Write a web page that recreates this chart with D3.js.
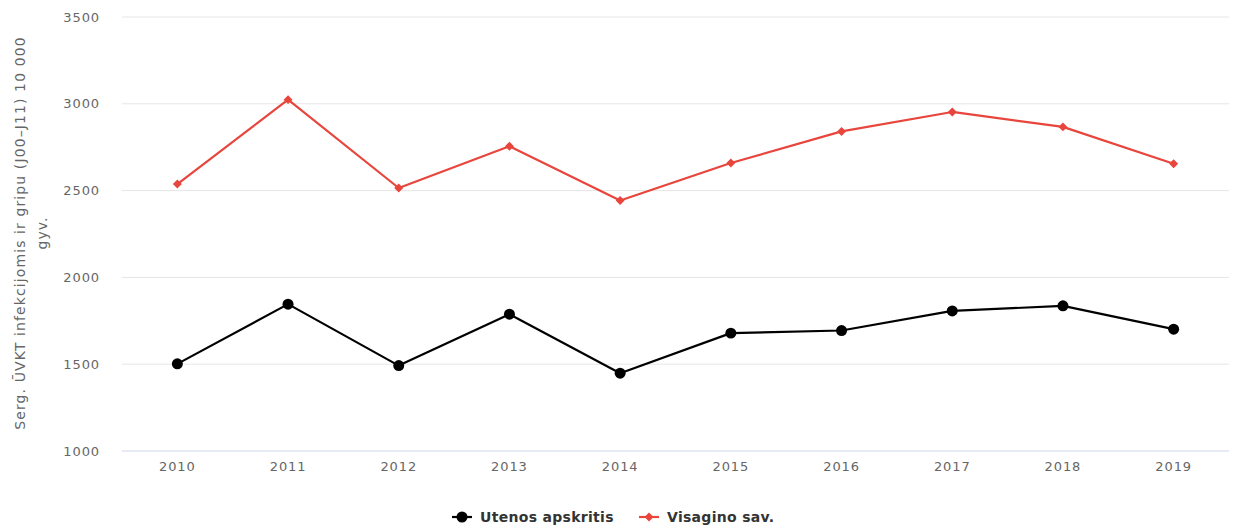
<!DOCTYPE html>
<html>
<head>
<meta charset="utf-8">
<script src="https://cdn.jsdelivr.net/npm/d3@7"></script>
<style>
  html, body { margin: 0; padding: 0; background: #fff; }
  svg { display: block; font-family: "DejaVu Sans", sans-serif; }
</style>
</head>
<body>
<svg id="chart" width="1234" height="526"></svg>
<script>
// Respiratory infection & flu incidence per 10 000 inhabitants
const years = ["2010", "2011", "2012", "2013", "2014", "2015", "2016", "2017", "2018", "2019"];
const utenosValues = [1502, 1846, 1492, 1788, 1448, 1679, 1694, 1807, 1836, 1702];
const visaginoValues = [2538, 3024, 2515, 2755, 2443, 2659, 2841, 2953, 2867, 2655];
const yTicks = [1000, 1500, 2000, 2500, 3000, 3500];
const seriesNames = ["Utenos apskritis", "Visagino sav."];
const axisTitleLines = ["Serg. ŪVKT infekcijomis ir gripu (J00–J11) 10 000", "gyv."];

const svg = d3.select("#chart");
const plotLeft = 122, plotRight = 1229, plotTop = 17, plotBottom = 451;

const x = d3.scaleBand().domain(years).range([plotLeft, plotRight]);
const y = d3.scaleLinear().domain([1000, 3500]).range([plotBottom, plotTop]);

// grid lines
svg.append("g")
  .selectAll("line")
  .data(yTicks.filter(t => t !== 1000))
  .join("line")
  .attr("x1", plotLeft).attr("x2", plotRight)
  .attr("y1", d => y(d)).attr("y2", d => y(d))
  .attr("stroke", "#e6e6e6").attr("stroke-width", 1);

// x axis baseline
svg.append("line")
  .attr("x1", plotLeft).attr("x2", plotRight)
  .attr("y1", y(1000)).attr("y2", y(1000))
  .attr("stroke", "#ccd6eb").attr("stroke-width", 1);

// y tick labels
const yAxis = d3.axisLeft(y).tickValues(yTicks).tickSize(0).tickPadding(0).tickFormat(d3.format("d"));
const gy = svg.append("g").attr("transform", "translate(100,0)").call(yAxis);
gy.select(".domain").remove();
gy.selectAll("text")
  .attr("fill", "#666").attr("font-size", "13px").attr("letter-spacing", "0.9px")
  .attr("font-family", "DejaVu Sans, sans-serif");

// x tick labels
const xAxis = d3.axisBottom(x).tickSize(0).tickPadding(0);
const gx = svg.append("g").attr("transform", "translate(0,462)").call(xAxis);
gx.select(".domain").remove();
gx.selectAll("text")
  .attr("fill", "#666").attr("font-size", "13px").attr("letter-spacing", "0.9px")
  .attr("font-family", "DejaVu Sans, sans-serif");

// y axis title (two lines, rotated)
const title = svg.append("text")
  .attr("transform", "translate(25,233) rotate(-90)")
  .attr("text-anchor", "middle")
  .attr("fill", "#666").attr("font-size", "14px").attr("letter-spacing", "1.1px");
title.selectAll("tspan")
  .data(axisTitleLines)
  .join("tspan")
  .attr("x", 0)
  .attr("dy", (d, i) => i === 0 ? 0 : 22)
  .text(d => d);

const cx = d => x(d) + x.bandwidth() / 2;
const line = d3.line().x(d => cx(d.year)).y(d => y(d.value));

const series = [
  { name: seriesNames[0], color: "#000000", values: utenosValues, symbol: d3.symbolCircle, size: 95, rot: 0 },
  { name: seriesNames[1], color: "#e8453c", values: visaginoValues, symbol: d3.symbolSquare, size: 40, rot: 45 }
];

series.forEach(s => {
  const pts = years.map((yr, i) => ({ year: yr, value: s.values[i] }));
  svg.append("path")
    .datum(pts)
    .attr("d", line)
    .attr("fill", "none")
    .attr("stroke", s.color)
    .attr("stroke-width", 2.2)
    .attr("stroke-linejoin", "round");
  svg.append("g")
    .selectAll("path")
    .data(pts)
    .join("path")
    .attr("transform", d => `translate(${cx(d.year)},${y(d.value)}) rotate(${s.rot})`)
    .attr("d", d3.symbol().type(s.symbol).size(s.size))
    .attr("fill", s.color);
});

// legend
const legendItems = [
  { s: series[0], x0: 452, tx: 480 },
  { s: series[1], x0: 639, tx: 667 }
];
const legendY = 517;
legendItems.forEach(it => {
  const g = svg.append("g");
  g.append("line")
    .attr("x1", it.x0).attr("x2", it.x0 + 20)
    .attr("y1", legendY).attr("y2", legendY)
    .attr("stroke", it.s.color).attr("stroke-width", 2.2);
  g.append("path")
    .attr("transform", `translate(${it.x0 + 10},${legendY}) rotate(${it.s.rot})`)
    .attr("d", d3.symbol().type(it.s.symbol).size(it.s.size))
    .attr("fill", it.s.color);
  g.append("text")
    .attr("x", it.tx).attr("y", legendY + 5)
    .attr("fill", "#333").attr("font-size", "14px").attr("font-weight", "bold")
    .attr("letter-spacing", "0.3px")
    .text(it.s.name);
});
</script>
</body>
</html>
